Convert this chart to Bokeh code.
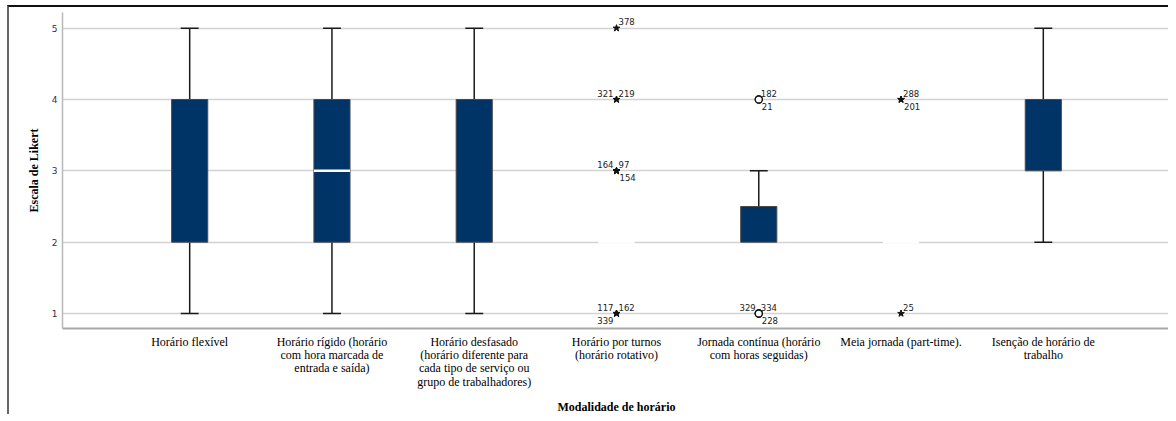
from bokeh.plotting import figure
from bokeh.models import FixedTicker, ColumnDataSource, Range1d
from bokeh.core.properties import value
from bokeh.embed import file_html
from bokeh.resources import INLINE

# ---------------- data ----------------
categories = [
    "Horário flexível",
    "Horário rígido (horário\ncom hora marcada de\nentrada e saída)",
    "Horário desfasado\n(horário diferente para\ncada tipo de serviço ou\ngrupo de trabalhadores)",
    "Horário por turnos\n(horário rotativo)",
    "Jornada contínua (horário\ncom horas seguidas)",
    "Meia jornada (part-time).",
    "Isenção de horário de\ntrabalho",
]
whisker_low = [1, 1, 1, 2, 2, 2, 2]
q1 = [2, 2, 2, 2, 2, 2, 3]
median = [4, 3, 4, 2, 2, 2, 4]
q3 = [4, 4, 4, 2, 2.5, 2, 4]
whisker_high = [5, 5, 5, 2, 3, 2, 5]

# outliers: category index, value, case id, kind
out_cat = [3, 3, 3, 3, 3, 3, 3, 3, 3, 4, 4, 4, 4, 4, 5, 5, 5]
out_val = [5, 4, 4, 3, 3, 3, 1, 1, 1, 4, 4, 1, 1, 1, 4, 4, 1]
out_id = ["378", "321", "219", "164", "97", "154", "117", "162", "339",
          "182", "21", "329", "334", "228", "288", "201", "25"]
out_kind = ["extreme"] * 9 + ["outlier"] * 5 + ["extreme"] * 3

y_ticks = [1, 2, 3, 4, 5]

# label placement around each outlier marker (ra=right-above, la=left-above,
# rb=right-below, lb=left-below)
out_pos = ["ra", "la", "ra", "la", "ra", "rb", "la", "ra", "lb",
           "ra", "rb", "la", "ra", "rb", "ra", "rb", "ra"]

# ---------------- figure ----------------
NAVY = "#003366"
xs = list(range(len(categories)))

p = figure(width=1161, height=409, output_backend="svg", toolbar_location=None,
           x_range=Range1d(-0.894, 6.894), y_range=Range1d(0.79, 5.22),
           min_border_left=53, min_border_right=0, min_border_top=5,
           min_border_bottom=88)
p.styles = {"border-top": "2px solid #111111", "border-left": "2px solid #666666",
            "margin-left": "7px", "margin-top": "5px"}
p.outline_line_color = None
p.background_fill_color = "white"
p.border_fill_color = "white"

p.xgrid.grid_line_color = None
p.ygrid.ticker = FixedTicker(ticks=y_ticks)
p.ygrid.grid_line_color = "#d2d2d2"
p.ygrid.grid_line_width = 1.5

# y axis
p.yaxis.ticker = FixedTicker(ticks=y_ticks)
p.yaxis.axis_label = "Escala de Likert"
p.yaxis.axis_label_text_font = "Liberation Serif"
p.yaxis.axis_label_text_font_style = "bold"
p.yaxis.axis_label_text_font_size = "12px"
p.yaxis.axis_label_text_color = "black"
p.yaxis.axis_label_standoff = 8
p.yaxis.major_label_text_font = "DejaVu Sans"
p.yaxis.major_label_text_font_size = "9px"
p.yaxis.major_label_text_color = "#333333"
p.yaxis.major_label_standoff = 5
p.yaxis.major_tick_out = 0
p.yaxis.major_tick_in = 0
p.yaxis.minor_tick_out = 0
p.yaxis.minor_tick_in = 0
p.yaxis.major_tick_line_color = None
p.yaxis.minor_tick_line_color = None
p.yaxis.axis_line_color = "#b8b8b8"
p.yaxis.axis_line_width = 1.5

# x axis
p.xaxis.ticker = FixedTicker(ticks=xs)
p.xaxis.major_label_overrides = {i: c for i, c in enumerate(categories)}
p.xaxis.major_label_text_font = "Liberation Serif"
p.xaxis.major_label_text_font_size = "12px"
p.xaxis.major_label_text_color = "black"
p.xaxis.major_label_text_line_height = 0.96
p.xaxis.major_label_standoff = 6
p.xaxis.major_tick_out = 0
p.xaxis.major_tick_in = 0
p.xaxis.minor_tick_out = 0
p.xaxis.minor_tick_in = 0
p.xaxis.major_tick_line_color = None
p.xaxis.minor_tick_line_color = None
p.xaxis.axis_line_color = "#a8a8a8"
p.xaxis.axis_line_width = 2
p.xaxis.axis_label = "Modalidade de horário"
p.xaxis.axis_label_text_font = "Liberation Serif"
p.xaxis.axis_label_text_font_style = "bold"
p.xaxis.axis_label_text_font_size = "12px"
p.xaxis.axis_label_text_color = "black"
p.xaxis.axis_label_standoff = 8

BOX_W = 0.254
CAP_HW = 0.063

# whiskers (only where they extend beyond the box)
wx0, wy0, wy1 = [], [], []
cx0, cx1, cy = [], [], []
for i in xs:
    if whisker_high[i] > q3[i]:
        wx0.append(i); wy0.append(q3[i]); wy1.append(whisker_high[i])
        cx0.append(i - CAP_HW); cx1.append(i + CAP_HW); cy.append(whisker_high[i])
    if whisker_low[i] < q1[i]:
        wx0.append(i); wy0.append(q1[i]); wy1.append(whisker_low[i])
        cx0.append(i - CAP_HW); cx1.append(i + CAP_HW); cy.append(whisker_low[i])
p.segment(x0=wx0, y0=wy0, x1=wx0, y1=wy1, line_color="#1a1a1a", line_width=1.5)
p.segment(x0=cx0, y0=cy, x1=cx1, y1=cy, line_color="#1a1a1a", line_width=1.5)

# boxes
bx = [i for i in xs if q3[i] > q1[i]]
p.vbar(x=bx, bottom=[q1[i] for i in bx], top=[q3[i] for i in bx], width=BOX_W,
       fill_color=NAVY, line_color="#4a4a4a", line_width=1)

# medians drawn in white where visible (inside box, or box collapsed)
mx = [i for i in xs if (q1[i] < median[i] < q3[i]) or q1[i] == q3[i]]
p.segment(x0=[i - BOX_W / 2 for i in mx], y0=[median[i] for i in mx],
          x1=[i + BOX_W / 2 for i in mx], y1=[median[i] for i in mx],
          line_color="white", line_width=2.5)

# outliers
ext = [k for k, t in enumerate(out_kind) if t == "extreme"]
mild = [k for k, t in enumerate(out_kind) if t == "outlier"]
p.scatter(x=[out_cat[k] for k in ext], y=[out_val[k] for k in ext], marker="star",
          size=7, fill_color="#111111", line_color="#111111")
p.scatter(x=[out_cat[k] for k in mild], y=[out_val[k] for k in mild], marker="circle",
          size=7, fill_color="white", line_color="#111111", line_width=1.3)

# outlier labels
offs = {"ra": (2, -3, "left", "bottom"), "la": (-3, -3, "right", "bottom"),
        "rb": (3, 3, "left", "top"), "lb": (-3, 3, "right", "top")}
for pos in offs:
    idx = [k for k in range(len(out_id)) if out_pos[k] == pos]
    if not idx:
        continue
    dx, dy, al, bl = offs[pos]
    src = ColumnDataSource(dict(x=[out_cat[k] for k in idx], y=[out_val[k] for k in idx],
                                t=[out_id[k] for k in idx]))
    p.text(x="x", y="y", text="t", source=src, x_offset=dx, y_offset=dy,
           text_align=al, text_baseline=bl, text_font=value("DejaVu Sans"),
           text_font_size="8.5px", text_color="#222222")

open("out.html", "w").write(file_html(p, INLINE))
